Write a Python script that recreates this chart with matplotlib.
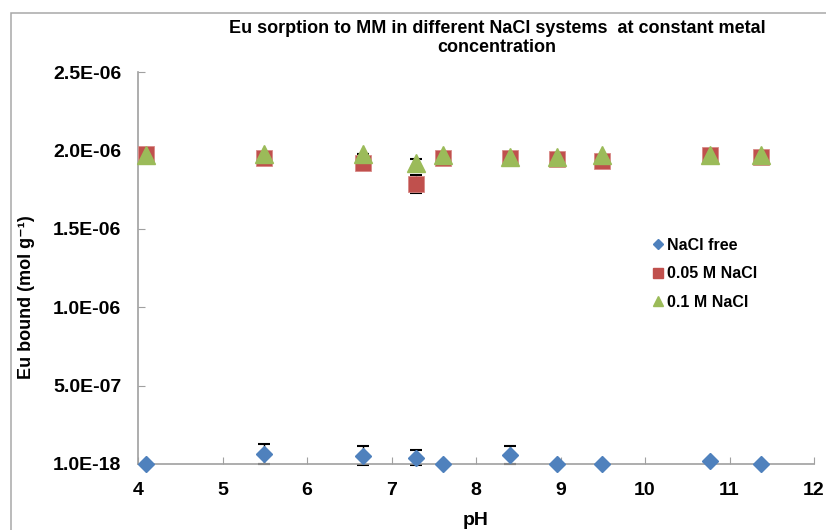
import numpy as np
import matplotlib.pyplot as plt
from matplotlib.lines import Line2D
from matplotlib.patches import Rectangle

plt.rcParams["font.family"] = ["Liberation Sans", "DejaVu Sans"]
plt.rcParams["font.weight"] = "bold"
plt.rcParams["axes.labelweight"] = "bold"

ph = [4.10, 5.49, 6.66, 7.29, 7.61, 8.40, 8.96, 9.49, 10.77, 11.37]

free     = [0.0, 6.4e-8, 5.3e-8, 4.0e-8, 0.0, 5.8e-8, 0.0, 0.0, 2.1e-8, 0.0]
free_err = [0.0, 6.4e-8, 6.0e-8, 4.7e-8, 0.0, 5.9e-8, 0.0, 0.0, 0.0, 0.0]

nacl005     = [1.976e-6, 1.952e-6, 1.918e-6, 1.784e-6, 1.949e-6, 1.952e-6, 1.942e-6, 1.933e-6, 1.971e-6, 1.961e-6]
nacl005_err = [0, 0, 0, 5.6e-8, 0, 0, 0, 0, 0, 0]

nacl01     = [1.970e-6, 1.976e-6, 1.976e-6, 1.920e-6, 1.970e-6, 1.960e-6, 1.955e-6, 1.970e-6, 1.970e-6, 1.970e-6]
nacl01_err = [0, 0, 0, 2.4e-8, 0, 0, 0, 0, 0, 0]

ytick_vals   = [0.0, 5e-7, 1e-6, 1.5e-6, 2e-6, 2.5e-6]
ytick_labels = ["1.0E-18", "5.0E-07", "1.0E-06", "1.5E-06", "2.0E-06", "2.5E-06"]

blue, red, green = "#4F81BD", "#C0504D", "#9BBB59"
axis_gray = "#A0A0A0"

fig = plt.figure(figsize=(8.26, 5.30), dpi=100)
ax = fig.add_axes([138 / 826, 1 - 464 / 530, 676 / 826, 392 / 530])

# outer chart-area border (top and left edges visible)
fig.patches.append(Rectangle((11 / 826, -0.1), 1.2, 1.1 - 13 / 530,
                             transform=fig.transFigure, fill=False,
                             edgecolor="#A8A8A8", linewidth=1.1))

for y, err in [(free, free_err), (nacl005, nacl005_err), (nacl01, nacl01_err)]:
    ax.errorbar(ph, y, yerr=err, fmt="none", ecolor="black", elinewidth=1.0,
                capsize=4, capthick=1.5, zorder=2, clip_on=False)

ax.plot(ph, free, "D", color=blue, markersize=8, linestyle="none", zorder=3, clip_on=False)
ax.plot(ph, nacl005, "s", color=red, markeredgecolor="#D98A88", markeredgewidth=0.6,
        markersize=12, linestyle="none", zorder=3, clip_on=False)
ax.plot(ph, nacl01, "^", color=green, markersize=12.5, linestyle="none", zorder=4, clip_on=False)

ax.set_xlim(4, 12)
ax.set_ylim(0, 2.5e-6)
ax.set_xticks(range(4, 13))
ax.set_yticks(ytick_vals)
ax.set_yticklabels(ytick_labels)
ax.tick_params(axis="both", direction="in", length=5, color=axis_gray, labelsize=14)
ax.tick_params(axis="y", pad=12)
ax.tick_params(axis="x", pad=13)
for side in ["top", "right"]:
    ax.spines[side].set_visible(False)
for side in ["left", "bottom"]:
    ax.spines[side].set_color(axis_gray)
    ax.spines[side].set_linewidth(1.2)

ax.set_xlabel("pH", fontsize=14, labelpad=9)
fig.text(27 / 826, 1 - 297 / 530, "Eu bound (mol g\u207b\u00b9)", rotation=90,
         ha="center", va="center", fontsize=13)
fig.text(497 / 826, 1 - 38 / 530,
         "Eu sorption to MM in different NaCl systems  at constant metal\nconcentration",
         ha="center", va="center", fontsize=13, linespacing=1.1)

handles = [
    Line2D([], [], marker="D", color=blue, linestyle="none", markersize=5),
    Line2D([], [], marker="s", color=red, linestyle="none", markersize=6.5),
    Line2D([], [], marker="^", color=green, linestyle="none", markersize=7),
]
ax.legend(handles, ["NaCl free", "0.05 M NaCl", "0.1 M NaCl"],
          loc="upper left", bbox_to_anchor=(653 / 826, 1 - 238 / 530),
          bbox_transform=fig.transFigure, frameon=False, fontsize=11.5,
          handlelength=0.6, handletextpad=0.3, labelspacing=0.84,
          borderpad=0, borderaxespad=0)

fig.savefig("out.png", dpi=100)
